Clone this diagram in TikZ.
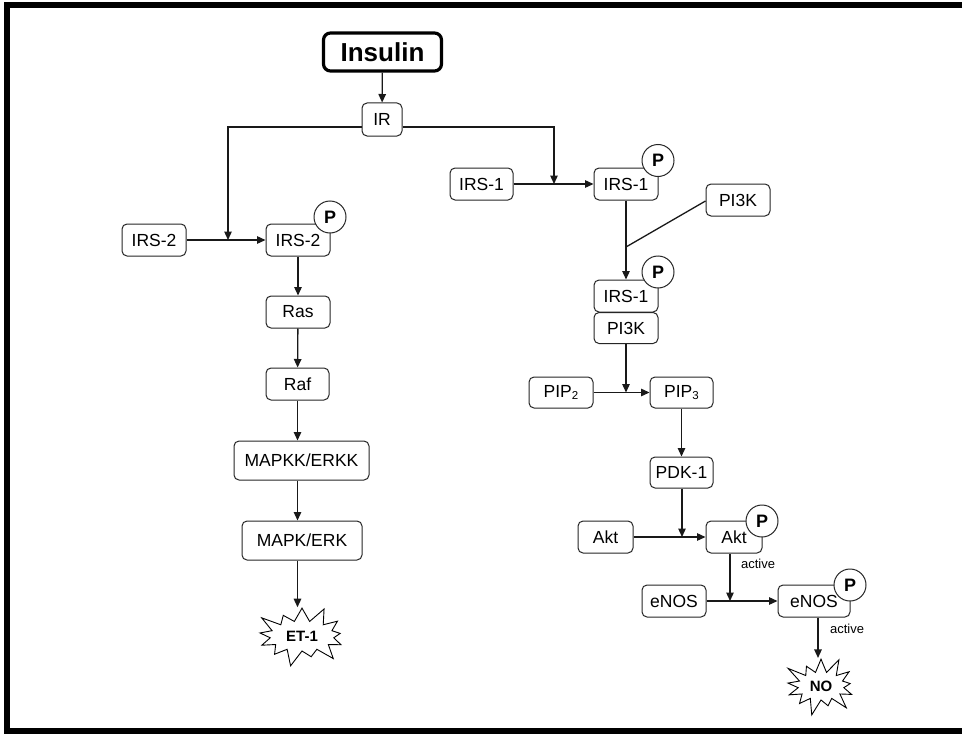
\documentclass[tikz,border=0pt]{standalone}
\usepackage{fontspec}
\setmainfont{Liberation Sans}
\usetikzlibrary{arrows.meta,shapes.symbols}
\begin{document}
\begin{tikzpicture}[x=1pt,y=-1pt,
  box/.style={draw=black!85,line width=1pt,rounded corners=5pt,inner sep=1pt,
    minimum height=32pt,font=\fontsize{17.5}{19}\selectfont},
  pcirc/.style={circle,draw=black!85,fill=white,line width=1pt,minimum size=32pt,inner sep=0pt,
    font=\fontsize{18}{19}\selectfont\bfseries},
  conn/.style={line width=1.3pt,draw=black!90},
  arr/.style={conn,-{Triangle[length=8.5pt,width=7.5pt]}},
  burst/.style={starburst,draw=black,line width=0.9pt,fill=white,inner sep=0pt,
    starburst point height=18pt,starburst points=13,font=\fontsize{15}{16}\selectfont\bfseries},
  small/.style={font=\fontsize{13}{14}\selectfont,inner sep=0pt}
]
\fill[white] (0,0) rectangle (963,733);
\useasboundingbox (0,0) rectangle (963,733);
% frame
\draw[line width=6pt] (962,5) -- (7,5) -- (7,730.5) -- (962,730.5);

% nodes
\node[box,draw=black,line width=3.2pt,rounded corners=7pt,minimum width=118pt,minimum height=38pt,
  font=\fontsize{26}{28}\selectfont\bfseries] (ins) at (382.5,52) {Insulin};
\node[box,minimum width=40pt,minimum height=33pt] (ir) at (382,119.5) {IR};

% left branch
\node[box,minimum width=64pt] (irs2a) at (154,240) {IRS-2};
\node[box,minimum width=64pt] (irs2b) at (298,240) {IRS-2};
\node[pcirc] (p1) at (330,217) {P};
\node[box,minimum width=64pt] (ras) at (298,312) {Ras};
\node[box,minimum width=63pt] (raf) at (297.5,384) {Raf};
\node[box,minimum width=135pt,minimum height=39pt] (mapkk) at (301.5,460.5) {MAPKK/ERKK};
\node[box,minimum width=120pt,minimum height=39pt] (mapk) at (302,540.5) {MAPK/ERK};
\node[burst,minimum width=100pt,minimum height=66pt] (et) at (302,636) {ET-1};

% right branch
\node[box,minimum width=63pt] (irs1a) at (481.5,184) {IRS-1};
\node[box,minimum width=64pt] (irs1b) at (626,184) {IRS-1};
\node[pcirc] (p2) at (658,160.5) {P};
\node[box,minimum width=64pt] (pi3ka) at (738,200) {PI3K};
\node[box,minimum width=64pt,minimum height=32pt] (irs1c) at (626,296) {IRS-1};
\node[pcirc] (p3) at (658,272) {P};
\node[box,minimum width=64pt,minimum height=31pt] (pi3kb) at (626,328) {PI3K};
\node[box,minimum width=64pt,minimum height=31pt] (pip2) at (561,392.5) {PIP\raisebox{-1.5pt}{\fontsize{11.5}{11}\selectfont 2}};
\node[box,minimum width=63pt,minimum height=31pt] (pip3) at (681.5,392.5) {PIP\raisebox{-1.5pt}{\fontsize{11.5}{11}\selectfont 3}};
\node[box,minimum width=63pt,minimum height=31pt] (pdk) at (681.5,472.5) {PDK-1};
\node[box,minimum width=55pt] (akta) at (605.5,537) {Akt};
\node[box,minimum width=56pt] (aktb) at (734,537) {Akt};
\node[pcirc] (p4) at (762,521) {P};
\node[small] (act1) at (758,564) {active};
\node[box,minimum width=64pt] (enosa) at (674,601) {eNOS};
\node[box,minimum width=72pt] (enosb) at (814,601) {eNOS};
\node[pcirc] (p5) at (850,585) {P};
\node[small] (act2) at (847,628.5) {active};
\node[burst,minimum width=82pt,minimum height=64pt] (no) at (821,686) {NO};

% junction coordinates
\coordinate (j2) at (228,240);
\coordinate (j1) at (554,184);
\coordinate (j3) at (626,247);
\coordinate (j4) at (626,392.5);
\coordinate (j5) at (682,537);
\coordinate (j6) at (730,601);
\coordinate (jn) at (818,601);

% connectors
\draw[arr] (ins) -- (ir);
\draw[arr] ([yshift=-7.5pt]ir.west) -| (j2);
\draw[arr] ([yshift=-7.5pt]ir.east) -| (j1);
\draw[arr] (irs2a) -- (irs2b);
\draw[arr] (irs1a) -- (irs1b);
\draw[arr] (irs2b) -- (ras);
\draw[arr] (ras) -- (raf);
\draw[arr] (raf.south) -- (raf.south |- mapkk.north);
\draw[arr] (mapkk.south -| raf.south) -- (mapk.north -| raf.south);
\draw[arr] (mapk.south -| raf.south) -- (et.north -| raf.south);
\draw[arr] (irs1b) -- (irs1c);
\draw[conn] ([yshift=-1pt]pi3ka.west) -- (j3);
\draw[arr] (pi3kb) -- (j4);
\draw[arr] (pip2) -- (pip3);
\draw[arr] (pip3) -- (pdk);
\draw[arr] (pdk.south -| j5) -- (j5);
\draw[arr] (akta) -- (aktb);
\draw[arr] (aktb.south -| j6) -- (j6);
\draw[arr] (enosa) -- (enosb);
\draw[arr] (enosb.south -| jn) -- (no.north -| jn);
\end{tikzpicture}
\end{document}
